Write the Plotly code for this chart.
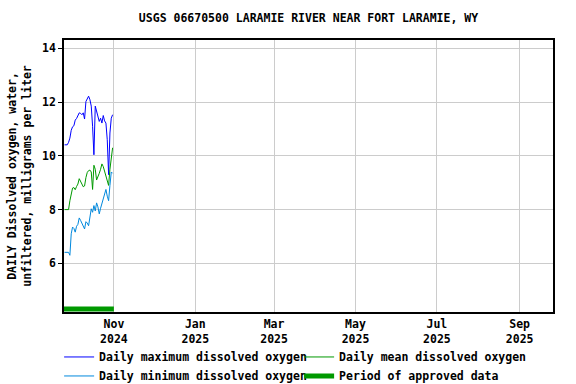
import plotly.graph_objects as go
import pandas as pd

# ---- data ----
dates = pd.date_range("2024-09-25", "2024-10-31", freq="D")

daily_max = [10.41, 10.41, 10.41, 10.50, 10.66, 10.95, 11.08, 11.12, 11.33, 11.39,
             11.49, 11.60, 11.58, 11.53, 11.60, 11.37, 12.02, 12.12, 12.22, 12.09,
             11.85, 11.10, 10.04, 11.85, 11.67, 11.53, 11.28, 11.40, 11.22, 11.50,
             11.30, 11.22, 10.60, 9.30, 10.85, 11.40, 11.53]

daily_mean = [8.00, 8.00, 8.00, 8.00, 8.33, 8.60, 8.80, 8.82, 8.74, 8.86,
              8.95, 9.15, 9.02, 8.95, 8.85, 8.88, 9.19, 9.38, 9.45, 9.47,
              9.40, 8.75, 9.65, 9.50, 9.10, 9.20, 9.35, 9.50, 9.70, 9.60,
              9.40, 9.20, 9.00, 8.90, 9.50, 9.90, 10.30]

daily_min = [6.41, 6.41, 6.41, 6.41, 6.30, 7.10, 7.35, 7.30, 7.16, 7.38,
             7.45, 7.69, 7.60, 7.50, 7.34, 7.28, 7.55, 7.50, 7.40, 7.80,
             8.03, 7.90, 8.15, 7.95, 8.25, 8.10, 7.84, 8.05, 8.25, 8.40,
             8.60, 8.75, 8.50, 8.33, 8.90, 9.40, 9.35]

approved_start = "2024-09-24 12:00"
approved_end = "2024-10-31 23:00"
approved_level = 4.30

tick_dates = ["2024-11-01", "2025-01-01", "2025-03-01", "2025-05-01", "2025-07-01", "2025-09-01"]
tick_labels = ["Nov<br>2024", "Jan<br>2025", "Mar<br>2025", "May<br>2025", "Jul<br>2025", "Sep<br>2025"]
y_ticks = [6, 8, 10, 12, 14]

title_text = "USGS 06670500 LARAMIE RIVER NEAR FORT LARAMIE, WY"
y_title = "DAILY Dissolved oxygen, water,<br>unfiltered, milligrams per liter"

FONT = "DejaVu Sans Mono"
FS = 11.5

fig = go.Figure()
fig.add_trace(go.Scatter(x=dates, y=daily_max, mode="lines", name="Daily maximum dissolved oxygen",
                         line=dict(color="#0000ff", width=1)))
fig.add_trace(go.Scatter(x=dates, y=daily_mean, mode="lines", name="Daily mean dissolved oxygen",
                         line=dict(color="#009900", width=1)))
fig.add_trace(go.Scatter(x=dates, y=daily_min, mode="lines", name="Daily minimum dissolved oxygen",
                         line=dict(color="#0088dd", width=1)))
fig.add_trace(go.Scatter(x=[approved_start, approved_end], y=[approved_level, approved_level],
                         mode="lines", name="Period of approved data",
                         line=dict(color="#009900", width=5)))

fig.update_layout(
    width=576, height=384,
    margin=dict(l=64, r=23, t=40, b=72, autoexpand=False),
    paper_bgcolor="white", plot_bgcolor="white",
    font=dict(family=FONT, size=FS, color="black", weight="bold"),
    title=dict(text=title_text, x=0.5, xref="paper", xanchor="center",
               y=0.952, yref="container", yanchor="middle",
               font=dict(family=FONT, size=FS, color="black", weight="bold")),
    showlegend=True,
    legend=dict(orientation="h", x=-0.01, xref="paper", xanchor="left",
                y=-0.112, yref="paper", yanchor="top",
                entrywidth=195, entrywidthmode="pixels",
                itemwidth=30, tracegroupgap=0,
                font=dict(family=FONT, size=FS, color="black", weight="bold"),
                bgcolor="rgba(0,0,0,0)"),
)

fig.update_xaxes(
    type="date",
    range=["2024-09-24 14:00", "2025-09-26 00:00"],
    tickvals=tick_dates, ticktext=tick_labels, tickangle=0,
    showgrid=True, gridcolor="#cccccc", gridwidth=1,
    showline=True, linecolor="black", linewidth=1.5, mirror=True,
    ticks="", zeroline=False,
    tickfont=dict(family=FONT, size=FS, color="black", weight="bold"),
)
fig.update_yaxes(
    range=[4.19, 14.31],
    tickvals=y_ticks,
    showgrid=True, gridcolor="#cccccc", gridwidth=1,
    showline=True, linecolor="black", linewidth=1.5, mirror=True,
    ticks="outside", ticklen=4, tickcolor="black", zeroline=False,
    title=dict(text=y_title, standoff=8,
               font=dict(family=FONT, size=FS, color="black", weight="bold")),
    tickfont=dict(family=FONT, size=FS, color="black", weight="bold"),
)

fig.write_html("out.html")
